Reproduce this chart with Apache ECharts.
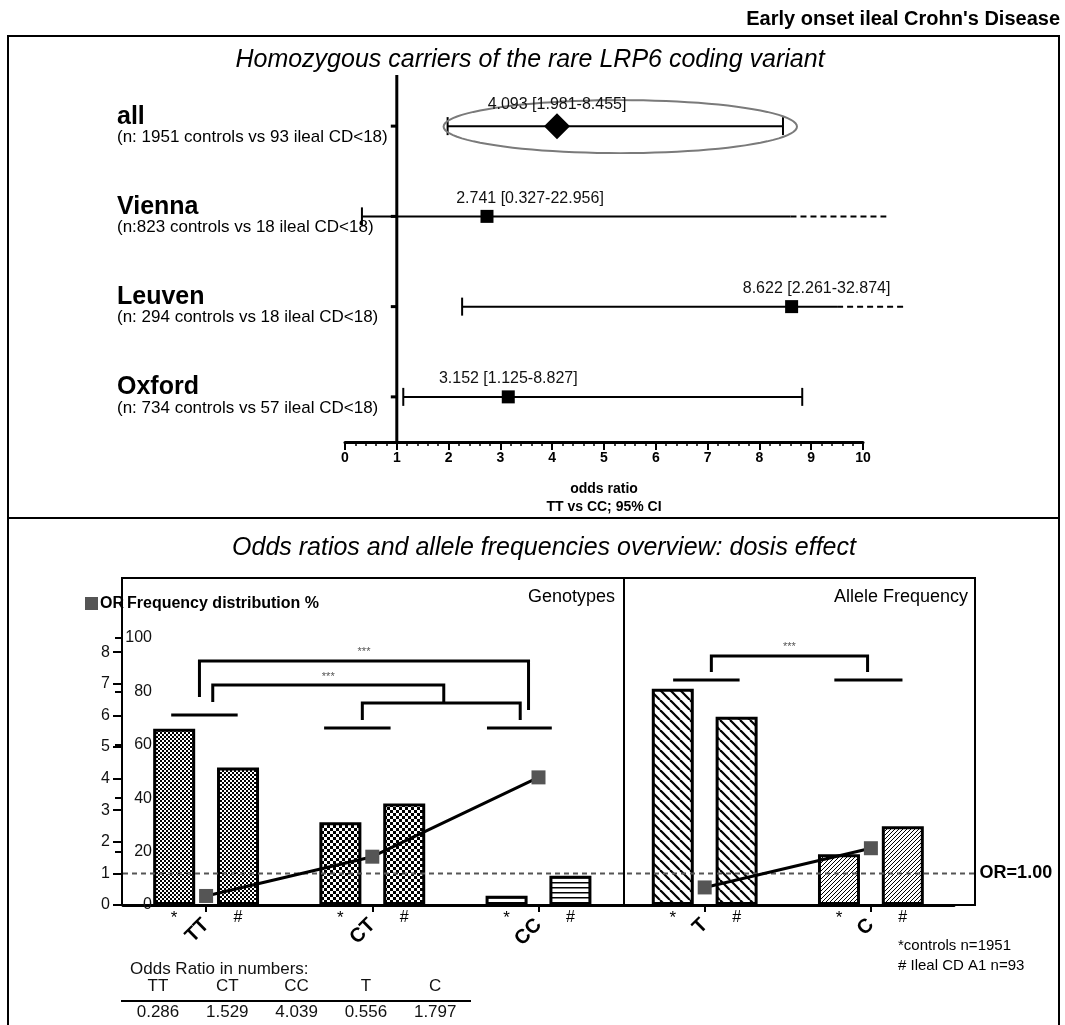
<!DOCTYPE html>
<html>
<head>
<meta charset="utf-8">
<script src="https://cdn.jsdelivr.net/npm/echarts@6/dist/echarts.min.js"></script>
<style>
html, body { margin: 0; padding: 0; background: #fff; }
#chart { width: 1065px; height: 1025px; }
</style>
</head>
<body>
<div id="chart"></div>
<script>
// ---- Forest plot: homozygous TT vs CC odds ratios with 95% CI per cohort ----
const cohorts = ['all', 'Vienna', 'Leuven', 'Oxford'];
const cohortSizes = [
  '(n: 1951 controls vs 93 ileal CD<18)',
  '(n:823 controls vs 18 ileal CD<18)',
  '(n: 294 controls vs 18 ileal CD<18)',
  '(n: 734 controls vs 57 ileal CD<18)'
];
const cohortOR = [4.093, 2.741, 8.622, 3.152];
const cohortLow = [1.981, 0.327, 2.261, 1.125];
const cohortHigh = [8.455, 22.956, 32.874, 8.827];
// upper limits off the axis: solid part, then a dashed continuation
const ciSolidEnd = [null, 8.6, 9.5, null];
const ciDashEnd = [null, 10.45, 10.8, null];

// ---- Genotype / allele overview ----
const groups = ['TT', 'CT', 'CC', 'T', 'C'];
const groupPanel = ['genotype', 'genotype', 'genotype', 'allele', 'allele'];
const controlsFreq = [66, 31, 3.5, 81, 19];     // % controls (n=1951)
const casesFreq = [51.5, 38, 11, 70.5, 29.5];   // % ileal CD A1 (n=93)
const oddsRatios = [0.286, 1.529, 4.039, 0.556, 1.797];

// significance brackets: [from, to, level, left foot, right foot, mark]
const brackets = [
  [-0.04, 1.94, 91.4, 77.9, 73.0, '***'],
  [0.04, 1.43, 82.4, 76.0, 75.7, '***'],
  [0.94, 1.89, 75.7, 69.3, 69.3, ''],
  [3.04, 3.98, 93.3, 87.3, 87.3, '***']
];
// short bars grouping each controls/cases pair: [from, to, level]
const pairLines = [
  [-0.21, 0.19, 71.2],
  [0.71, 1.11, 66.3],
  [1.69, 2.08, 66.3],
  [2.81, 3.21, 84.3],
  [3.78, 4.19, 84.3]
];

const FONT = '"Liberation Sans", Arial, sans-serif';

function pattern(size, draw) {
  const c = document.createElement('canvas');
  c.width = size; c.height = size;
  const g = c.getContext('2d');
  g.fillStyle = '#fff';
  g.fillRect(0, 0, size, size);
  g.fillStyle = '#000';
  g.strokeStyle = '#000';
  draw(g, size);
  return { image: c, repeat: 'repeat' };
}
const fineChecker = pattern(4, g => { g.fillRect(0, 0, 2, 2); g.fillRect(2, 2, 2, 2); });
const coarseChecker = pattern(6, g => { g.fillRect(0, 0, 3, 3); g.fillRect(3, 3, 3, 3); });
const hLines = pattern(5, (g, s) => { g.fillRect(0, 2, s, 1.5); });
const backDiag = pattern(10, (g, s) => {
  g.lineWidth = 2.2;
  for (let k = -1; k <= 1; k++) { g.beginPath(); g.moveTo(k * s, 0); g.lineTo(k * s + s, s); g.stroke(); }
});
const fwdDiag = pattern(4, (g, s) => {
  g.lineWidth = 1;
  for (let k = -1; k <= 1; k++) { g.beginPath(); g.moveTo(k * s, s); g.lineTo(k * s + s, 0); g.stroke(); }
});
const fills = [fineChecker, coarseChecker, hLines, backDiag, fwdDiag];

const chart = echarts.init(document.getElementById('chart'), null, { renderer: 'canvas' });

function barData(values) {
  return values.map((v, i) => ({ value: v, itemStyle: { color: fills[i] } }));
}
function orSeriesData(panel) {
  return oddsRatios.map((v, i) => (groupPanel[i] === panel ? v : '-'));
}

const black = '#000';

const option = {
  animation: false,
  backgroundColor: '#fff',
  textStyle: { fontFamily: FONT },
  grid: [
    { left: 345, top: 81, width: 518, height: 361 },
    { left: 123, top: 638, width: 831, height: 267 }
  ],
  xAxis: [
    {
      gridIndex: 0, type: 'value', min: 0, max: 10, interval: 1,
      axisLine: { show: true, lineStyle: { color: black, width: 3 } },
      axisTick: { show: true, length: 8, lineStyle: { color: black, width: 2 } },
      minorTick: { show: true, splitNumber: 5, length: 4, lineStyle: { color: black, width: 1.5 } },
      splitLine: { show: false },
      axisLabel: { color: black, fontWeight: 'bold', fontSize: 14, margin: 9, fontFamily: FONT },
      name: 'odds ratio\nTT vs CC; 95% CI',
      nameLocation: 'middle', nameGap: 38,
      nameTextStyle: { color: black, fontWeight: 'bold', fontSize: 14, lineHeight: 18, verticalAlign: 'top', fontFamily: FONT }
    },
    {
      gridIndex: 1, type: 'category', data: groups,
      axisLine: { show: true, onZero: false, lineStyle: { color: black, width: 3 } },
      axisTick: { show: true, alignWithLabel: true, length: 7, lineStyle: { color: black, width: 2 } },
      axisLabel: { rotate: 45, color: black, fontWeight: 'bold', fontSize: 20, margin: 17, fontFamily: FONT }
    },
    { gridIndex: 1, type: 'value', min: -0.5, max: 4.5, show: false }
  ],
  yAxis: [
    {
      gridIndex: 0, type: 'category', data: cohorts, inverse: true,
      axisLine: { show: false }, axisTick: { show: false }, splitLine: { show: false },
      axisLabel: {
        align: 'left', margin: 228, fontFamily: FONT,
        formatter: (v, i) => '{n|' + v + '}\n{s|' + cohortSizes[i] + '}',
        rich: {
          n: { fontSize: 25, fontWeight: 'bold', color: black, lineHeight: 22, fontFamily: FONT },
          s: { fontSize: 17, color: black, lineHeight: 19, fontFamily: FONT }
        }
      }
    },
    {
      gridIndex: 1, type: 'value', position: 'left', min: 0, max: 100, interval: 20,
      axisLine: { show: false, onZero: false },
      axisTick: { show: true, length: 8, lineStyle: { color: black, width: 2 } },
      splitLine: { show: false },
      axisLabel: { inside: true, align: 'right', margin: 29, color: '#111', fontSize: 16, fontFamily: FONT }
    },
    {
      gridIndex: 1, type: 'value', position: 'left', min: 0, max: 8.45, interval: 1,
      axisLine: { show: false, onZero: false },
      axisTick: { show: true, length: 10, lineStyle: { color: black, width: 2 } },
      splitLine: { show: false },
      axisLabel: { showMaxLabel: false, margin: 13, color: '#111', fontSize: 16, fontFamily: FONT }
    }
  ],
  series: [
    // reference line at OR = 1 with a tick for every cohort row
    {
      type: 'custom', xAxisIndex: 0, yAxisIndex: 0, clip: false, z: 3,
      data: [[1, 0]],
      renderItem(params, api) {
        const cs = params.coordSys;
        const x = api.coord([1, 0])[0];
        const kids = [{ type: 'line', shape: { x1: x, y1: cs.y - 6, x2: x, y2: cs.y + cs.height },
          style: { stroke: black, lineWidth: 3 } }];
        cohorts.forEach((c, i) => {
          const y = api.coord([1, i])[1];
          kids.push({ type: 'line', shape: { x1: x - 6, y1: y, x2: x, y2: y }, style: { stroke: black, lineWidth: 3 } });
        });
        return { type: 'group', children: kids };
      }
    },
    // confidence intervals, point estimates and value labels
    {
      type: 'custom', xAxisIndex: 0, yAxisIndex: 0, clip: false, z: 4,
      data: cohortOR.map((v, i) => [v, i]),
      renderItem(params, api) {
        const i = params.dataIndex;
        const y = api.coord([0, i])[1];
        const xAt = v => api.coord([v, i])[0];
        const seg = (x1, y1, x2, y2, dash) => ({
          type: 'line', shape: { x1, y1, x2, y2 },
          style: { stroke: black, lineWidth: 2, lineDash: dash ? [6, 4] : null }
        });
        const kids = [];
        const lo = xAt(cohortLow[i]);
        const truncated = ciSolidEnd[i] != null;
        const hi = truncated ? xAt(ciSolidEnd[i]) : xAt(cohortHigh[i]);
        kids.push(seg(lo, y, hi, y));
        kids.push(seg(lo, y - 9, lo, y + 9));
        if (truncated) kids.push(seg(hi, y, xAt(ciDashEnd[i]), y, true));
        else kids.push(seg(hi, y - 9, hi, y + 9));
        const xo = xAt(cohortOR[i]);
        if (i === 0) {
          const r = 13;
          kids.push({ type: 'polygon', shape: { points: [[xo, y - r], [xo + r, y], [xo, y + r], [xo - r, y]] },
            style: { fill: black } });
          // highlight ring around the pooled estimate
          const cx = (lo + hi) / 2 + 5, rx = (hi - lo) / 2 + 9, ry = 26.5;
          const pts = [];
          for (let k = 0; k < 96; k++) {
            const a = (k / 96) * Math.PI * 2;
            pts.push([cx + rx * Math.cos(a), y + 0.5 + ry * Math.sin(a)]);
          }
          kids.push({ type: 'polygon', shape: { points: pts }, style: { fill: null, stroke: '#7a7a7a', lineWidth: 2 } });
        } else {
          kids.push({ type: 'rect', shape: { x: xo - 6.5, y: y - 6.5, width: 13, height: 13 }, style: { fill: black } });
        }
        const shift = [0, 43, 25, 0][i];
        const rise = i === 0 ? 22 : 18;
        kids.push({
          type: 'text', x: xo + shift, y: y - rise,
          style: {
            text: cohortOR[i].toFixed(3) + ' [' + cohortLow[i].toFixed(3) + '-' + cohortHigh[i].toFixed(3) + ']',
            fill: '#111', font: '16px ' + FONT, align: 'center', verticalAlign: 'middle'
          }
        });
        return { type: 'group', children: kids };
      }
    },
    // frequency bars
    {
      name: 'controls', type: 'bar', xAxisIndex: 1, yAxisIndex: 1,
      barWidth: 42, barGap: '52%',
      data: barData(controlsFreq),
      itemStyle: { borderColor: black, borderWidth: 3 },
      label: { show: true, position: 'bottom', distance: 5, formatter: '*', color: black, fontSize: 17, fontFamily: FONT }
    },
    {
      name: 'cases', type: 'bar', xAxisIndex: 1, yAxisIndex: 1,
      barWidth: 42,
      data: barData(casesFreq),
      itemStyle: { borderColor: black, borderWidth: 3 },
      label: { show: true, position: 'bottom', distance: 5, formatter: '#', color: black, fontSize: 16, fontFamily: FONT }
    },
    // pair bars and significance brackets
    {
      type: 'custom', xAxisIndex: 2, yAxisIndex: 1, clip: false, z: 3,
      data: pairLines.map(p => [p[0], p[2]]),
      renderItem(params, api) {
        const p = pairLines[params.dataIndex];
        const a = api.coord([p[0], p[2]]);
        const b = api.coord([p[1], p[2]]);
        return { type: 'line', shape: { x1: a[0], y1: a[1], x2: b[0], y2: b[1] }, style: { stroke: black, lineWidth: 3 } };
      }
    },
    {
      type: 'custom', xAxisIndex: 2, yAxisIndex: 1, clip: false, z: 3,
      data: brackets.map(b => [b[0], b[2]]),
      renderItem(params, api) {
        const b = brackets[params.dataIndex];
        const [x1, y] = api.coord([b[0], b[2]]);
        const x2 = api.coord([b[1], b[2]])[0];
        const yl = api.coord([b[0], b[3]])[1];
        const yr = api.coord([b[1], b[4]])[1];
        const kids = [{ type: 'polyline', shape: { points: [[x1, yl], [x1, y], [x2, y], [x2, yr]] },
          style: { stroke: black, lineWidth: 3, fill: null } }];
        if (b[5]) kids.push({ type: 'text', x: (x1 + x2) / 2, y: y - 3,
          style: { text: b[5], fill: '#555', font: '11px ' + FONT, align: 'center', verticalAlign: 'bottom' } });
        return { type: 'group', children: kids };
      }
    },
    // OR = 1 reference
    {
      type: 'custom', xAxisIndex: 2, yAxisIndex: 2, clip: false, z: 3,
      data: [[-0.5, 1]],
      renderItem(params, api) {
        const a = api.coord([-0.5, 1]);
        const b = api.coord([4.63, 1]);
        return { type: 'group', children: [
          { type: 'line', shape: { x1: a[0], y1: a[1], x2: b[0], y2: b[1] }, style: { stroke: '#555', lineWidth: 2, lineDash: [5, 4] } },
          { type: 'text', x: b[0] + 4, y: b[1], style: { text: 'OR=1.00', fill: black, font: 'bold 18px ' + FONT, align: 'left', verticalAlign: 'middle' } }
        ] };
      }
    },
    // odds ratio trend (genotypes, then alleles)
    {
      type: 'line', xAxisIndex: 1, yAxisIndex: 2, z: 6,
      data: orSeriesData('genotype'),
      symbol: 'rect', symbolSize: 14,
      itemStyle: { color: '#555' },
      lineStyle: { color: black, width: 3 }
    },
    {
      type: 'line', xAxisIndex: 1, yAxisIndex: 2, z: 6,
      data: orSeriesData('allele'),
      symbol: 'rect', symbolSize: 14,
      itemStyle: { color: '#555' },
      lineStyle: { color: black, width: 3 }
    }
  ],
  graphic: [
    // panel frames
    { type: 'rect', z: -1, shape: { x: 8, y: 36, width: 1051, height: 1010 }, style: { fill: null, stroke: black, lineWidth: 2 } },
    { type: 'line', z: -1, shape: { x1: 8, y1: 518, x2: 1059, y2: 518 }, style: { stroke: black, lineWidth: 2 } },
    { type: 'rect', z: -1, shape: { x: 122, y: 578, width: 853, height: 327 }, style: { fill: null, stroke: black, lineWidth: 2 } },
    { type: 'line', z: -1, shape: { x1: 624, y1: 578, x2: 624, y2: 905 }, style: { stroke: black, lineWidth: 2 } },
    // headings
    { type: 'text', x: 1060, y: 19, style: { text: "Early onset ileal Crohn's Disease", fill: black, font: 'bold 20px ' + FONT, align: 'right', verticalAlign: 'middle' } },
    { type: 'text', x: 530, y: 60, style: { text: 'Homozygous carriers of the rare LRP6 coding variant', fill: black, font: 'italic 25px ' + FONT, align: 'center', verticalAlign: 'middle' } },
    { type: 'text', x: 544, y: 548, style: { text: 'Odds ratios and allele frequencies overview: dosis effect', fill: black, font: 'italic 25px ' + FONT, align: 'center', verticalAlign: 'middle' } },
    { type: 'text', x: 615, y: 597, style: { text: 'Genotypes', fill: black, font: '18px ' + FONT, align: 'right', verticalAlign: 'middle' } },
    { type: 'text', x: 968, y: 597, style: { text: 'Allele Frequency', fill: black, font: '18px ' + FONT, align: 'right', verticalAlign: 'middle' } },
    // axis keys
    { type: 'rect', shape: { x: 85, y: 597, width: 13, height: 13 }, style: { fill: '#555' } },
    { type: 'text', x: 100, y: 604, style: { text: 'OR', fill: black, font: 'bold 16px ' + FONT, align: 'left', verticalAlign: 'middle' } },
    { type: 'text', x: 127, y: 604, style: { text: 'Frequency distribution %', fill: black, font: 'bold 16px ' + FONT, align: 'left', verticalAlign: 'middle' } },
    // group legend
    { type: 'text', x: 898, y: 946, style: { text: '*controls n=1951', fill: black, font: '15px ' + FONT, align: 'left', verticalAlign: 'middle' } },
    { type: 'text', x: 898, y: 966, style: { text: '# Ileal CD A1 n=93', fill: black, font: '15px ' + FONT, align: 'left', verticalAlign: 'middle' } },
    // odds ratio table
    { type: 'text', x: 130, y: 969, style: { text: 'Odds Ratio in numbers:', fill: '#111', font: '17px ' + FONT, align: 'left', verticalAlign: 'middle' } },
    { type: 'line', shape: { x1: 121, y1: 1001, x2: 471, y2: 1001 }, style: { stroke: black, lineWidth: 2 } }
  ].concat(groups.map((g, i) => ({
    type: 'text', x: 158 + i * 69.3, y: 986,
    style: { text: g, fill: '#111', font: '17px ' + FONT, align: 'center', verticalAlign: 'middle' }
  }))).concat(oddsRatios.map((v, i) => ({
    type: 'text', x: 158 + i * 69.3, y: 1012,
    style: { text: v.toFixed(3), fill: '#111', font: '17px ' + FONT, align: 'center', verticalAlign: 'middle' }
  })))
};

chart.setOption(option);
</script>
</body>
</html>
